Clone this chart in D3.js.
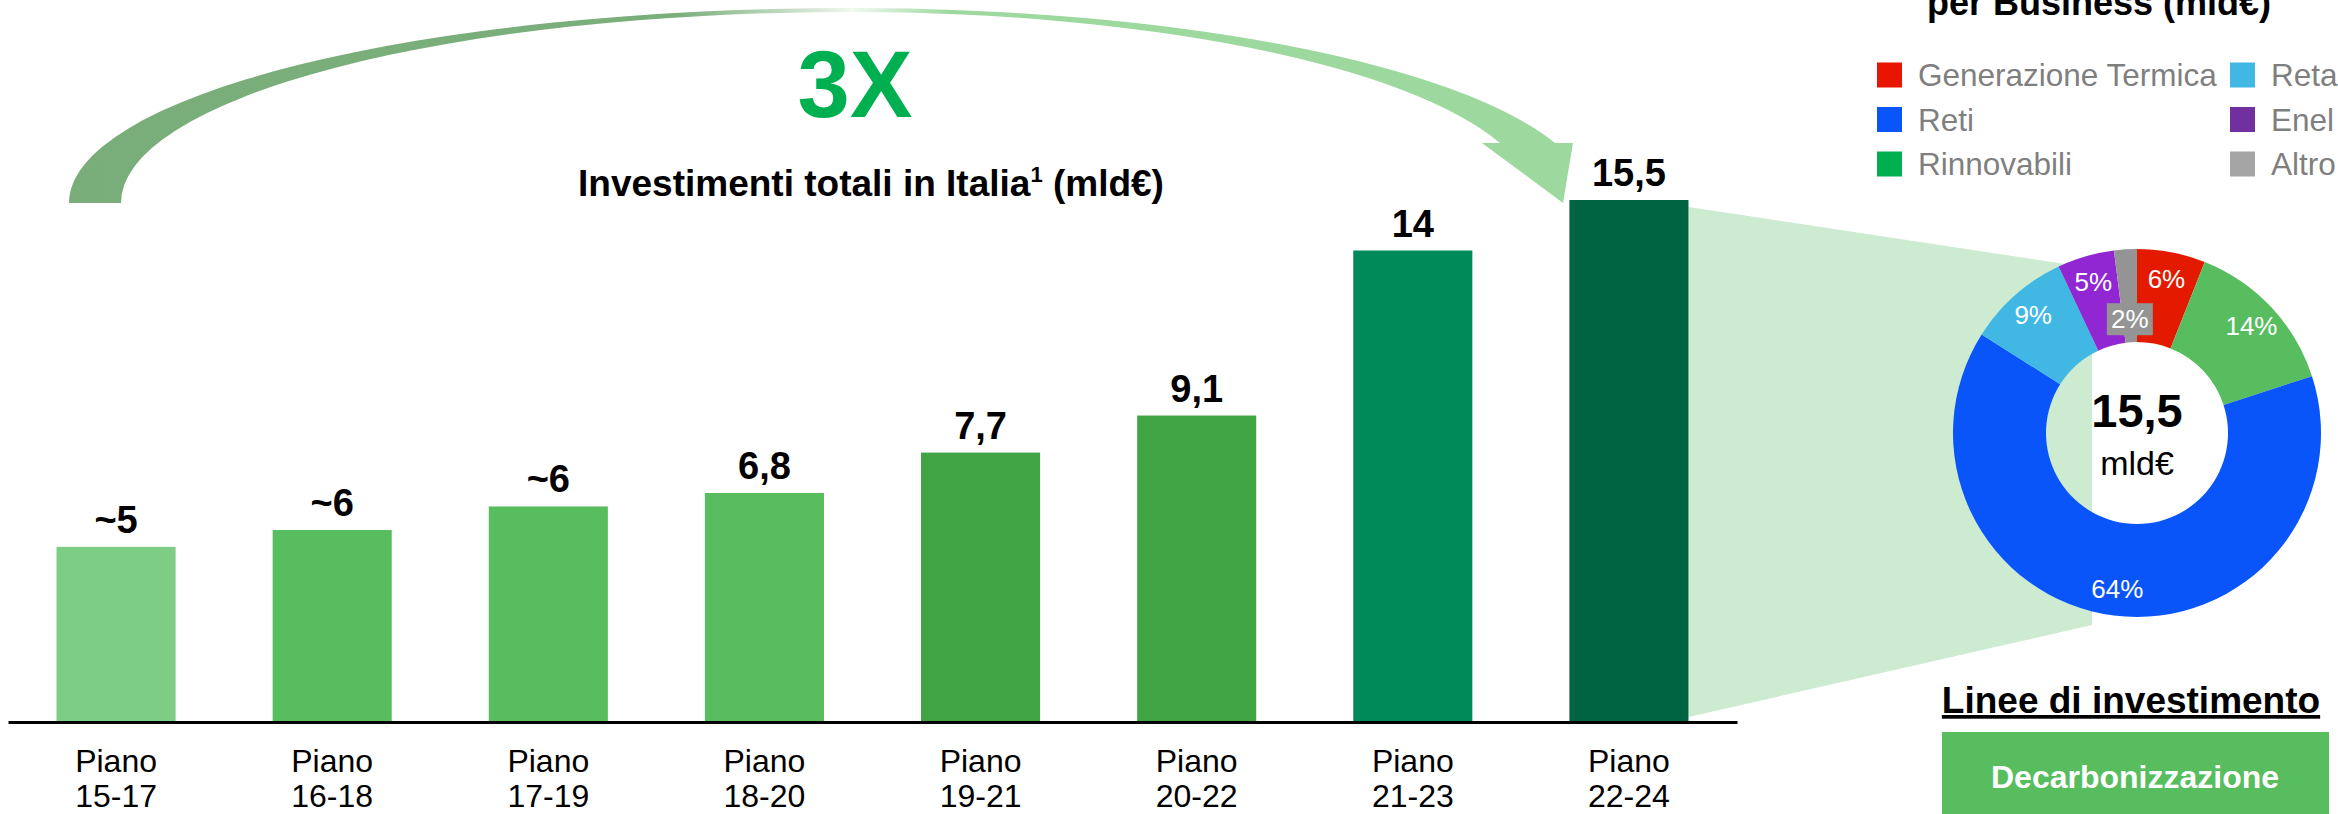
<!DOCTYPE html>
<html>
<head>
<meta charset="utf-8">
<script src="https://cdn.jsdelivr.net/npm/d3@7"></script>
<style>
  html, body { margin: 0; padding: 0; background: #ffffff; }
  svg { display: block; font-family: "Liberation Sans", Arial, sans-serif; }
</style>
</head>
<body>
<svg id="chart" width="2338" height="814"></svg>
<script>
// ---------- data ----------
const categories = ["15-17", "16-18", "17-19", "18-20", "19-21", "20-22", "21-23", "22-24"];
const values = [5.2, 5.7, 6.4, 6.8, 8.0, 9.1, 14, 15.5];
const valueLabels = ["~5", "~6", "~6", "6,8", "7,7", "9,1", "14", "15,5"];
const barColors = ["#7dcd84", "#58bd5f", "#58bd5f", "#58bd5f", "#40a444", "#40a444", "#008a5a", "#006442"];

const sliceNames = ["Generazione Termica", "Rinnovabili", "Reti", "Retail", "Enel X", "Altro"];
const sliceValues = [6, 14, 64, 9, 5, 2];
const sliceColors = ["#e41a00", "#57bd5f", "#0a55fa", "#41b8e4", "#9127d2", "#949494"];

const legendNames = ["Generazione Termica", "Reti", "Rinnovabili", "Retail", "Enel X", "Altro"];
const legendColors = ["#e81500", "#0a55fa", "#00b050", "#41b8e4", "#7030a0", "#a5a5a5"];

const totalLabel = "15,5";
const multiplierLabel = "3X";

// ---------- setup ----------
const svg = d3.select("#chart");
const FONT = '"Liberation Sans", Arial, sans-serif';

const x = d3.scaleBand().domain(categories).range([8, 1737]).paddingInner(0.449).paddingOuter(0.2245);
const y = d3.scaleLinear().domain([0, 15.5]).range([722, 200]);

// ---------- curved "3X" arrow ----------
const defs = svg.append("defs");
const gL = defs.append("linearGradient").attr("id", "gradL")
  .attr("gradientUnits", "userSpaceOnUse").attr("x1", 69).attr("x2", 850).attr("y1", 0).attr("y2", 0);
gL.append("stop").attr("offset", 0).attr("stop-color", "#79ad79");
gL.append("stop").attr("offset", 0.78).attr("stop-color", "#7aae7a");
gL.append("stop").attr("offset", 1).attr("stop-color", "#eef6ee");
const gR = defs.append("linearGradient").attr("id", "gradR")
  .attr("gradientUnits", "userSpaceOnUse").attr("x1", 850).attr("x2", 1555).attr("y1", 0).attr("y2", 0);
gR.append("stop").attr("offset", 0).attr("stop-color", "#f2faf2");
gR.append("stop").attr("offset", 0.14).attr("stop-color", "#9dd89e");
gR.append("stop").attr("offset", 1).attr("stop-color", "#9dd89e");

svg.append("path")
  .attr("d", "M69,203 A781,195 0 0 1 850,8 L850,12 A729,191 0 0 0 121,203 Z")
  .attr("fill", "url(#gradL)");
svg.append("path")
  .attr("d", "M850,8 A741,195 0 0 1 1555,143 L1500,143 A683,191 0 0 0 850,12 Z")
  .attr("fill", "url(#gradR)");
svg.append("path")
  .attr("d", "M1482,143 L1573,143 L1563,203 Z")
  .attr("fill", "#9dd89e");

svg.append("text")
  .attr("x", 855).attr("y", 117)
  .attr("text-anchor", "middle")
  .attr("font-size", 94).attr("font-weight", "bold")
  .attr("fill", "#00b050")
  .text(multiplierLabel);

// chart title
const title = svg.append("text")
  .attr("x", 871).attr("y", 196)
  .attr("text-anchor", "middle")
  .attr("font-size", 37).attr("font-weight", "bold")
  .attr("fill", "#000");
title.append("tspan").text("Investimenti totali in Italia");
title.append("tspan").attr("font-size", 22).attr("dy", -14).text("1");
title.append("tspan").attr("dy", 14).text(" (mld€)");

// ---------- funnel from last bar to donut ----------
const lastCat = categories[categories.length - 1];
const fx0 = x(lastCat) + x.bandwidth();
svg.append("path")
  .attr("d", `M${fx0},${y(values[values.length - 1]) + 7} L2092,268 L2092,625 L${fx0},717 Z`)
  .attr("fill", "#cdebd0");

// ---------- bars ----------
svg.append("g").selectAll("rect")
  .data(values)
  .join("rect")
  .attr("x", (d, i) => x(categories[i]))
  .attr("y", d => y(d))
  .attr("width", x.bandwidth())
  .attr("height", d => y(0) - y(d))
  .attr("fill", (d, i) => barColors[i]);

svg.append("g").selectAll("text")
  .data(values)
  .join("text")
  .attr("x", (d, i) => x(categories[i]) + x.bandwidth() / 2)
  .attr("y", d => y(d) - 14)
  .attr("text-anchor", "middle")
  .attr("font-size", 38).attr("font-weight", "bold")
  .attr("fill", "#000")
  .text((d, i) => valueLabels[i]);

// ---------- x axis ----------
const axis = svg.append("g")
  .attr("transform", `translate(0,${y(0)})`)
  .call(d3.axisBottom(x).tickSizeInner(0).tickSizeOuter(0).tickPadding(0));
axis.select(".domain").attr("stroke", "#000").attr("stroke-width", 3);
axis.selectAll(".tick text").each(function(d) {
  const t = d3.select(this);
  t.text(null).attr("font-family", FONT).attr("font-size", 32).attr("fill", "#000")
    .attr("y", 0).attr("dy", null);
  t.append("tspan").attr("x", 0).attr("y", 50).text("Piano");
  t.append("tspan").attr("x", 0).attr("y", 85).text(d);
});

// ---------- donut ----------
const cx = 2137, cy = 433, rOut = 184, rIn = 91;
const pie = d3.pie().sort(null).value(d => d);
const arcs = pie(sliceValues);
const arcGen = d3.arc().innerRadius(rIn).outerRadius(rOut);
const donut = svg.append("g").attr("transform", `translate(${cx},${cy})`);
donut.selectAll("path")
  .data(arcs)
  .join("path")
  .attr("d", arcGen)
  .attr("fill", (d, i) => sliceColors[i]);

const labelArc = d3.arc().innerRadius(157).outerRadius(157);
const smallArc = d3.arc().innerRadius(114).outerRadius(114);
arcs.forEach((a, i) => {
  const isSmall = sliceValues[i] < 3;
  const [lx, ly] = (isSmall ? smallArc : labelArc).centroid(a);
  if (isSmall) {
    donut.append("rect")
      .attr("x", lx - 23).attr("y", ly - 16)
      .attr("width", 46).attr("height", 32)
      .attr("fill", sliceColors[i]);
  }
  donut.append("text")
    .attr("x", lx).attr("y", ly + 9)
    .attr("text-anchor", "middle")
    .attr("font-size", 26)
    .attr("fill", "#ffffff")
    .text(sliceValues[i] + "%");
});

donut.append("text")
  .attr("x", 0).attr("y", -6)
  .attr("text-anchor", "middle")
  .attr("font-size", 47).attr("font-weight", "bold")
  .attr("fill", "#000")
  .text(totalLabel);
donut.append("text")
  .attr("x", 0).attr("y", 42)
  .attr("text-anchor", "middle")
  .attr("font-size", 34)
  .attr("fill", "#000")
  .text("mld€");

// ---------- legend ----------
svg.append("text")
  .attr("x", 2099).attr("y", 15)
  .attr("text-anchor", "middle")
  .attr("font-size", 36).attr("font-weight", "bold")
  .attr("fill", "#000")
  .text("per Business (mld€)");

const legendCols = [1877, 2230];
const legendRows = [75, 119.5, 164];
const legend = svg.append("g");
legendNames.forEach((name, i) => {
  const col = Math.floor(i / 3), row = i % 3;
  const lx = legendCols[col], ly = legendRows[row];
  legend.append("rect")
    .attr("x", lx).attr("y", ly - 12.5)
    .attr("width", 25).attr("height", 25)
    .attr("fill", legendColors[i]);
  legend.append("text")
    .attr("x", lx + 41).attr("y", ly + 11)
    .attr("font-size", 31.5)
    .attr("fill", "#7f7f7f")
    .text(name);
});

// ---------- investment lines box ----------
svg.append("text")
  .attr("x", 2131).attr("y", 713)
  .attr("text-anchor", "middle")
  .attr("font-size", 37).attr("font-weight", "bold")
  .attr("text-decoration", "underline")
  .attr("fill", "#000")
  .text("Linee di investimento");
svg.append("rect")
  .attr("x", 1942).attr("y", 732)
  .attr("width", 387).attr("height", 90)
  .attr("fill", "#57bd5f");
svg.append("text")
  .attr("x", 2135).attr("y", 788)
  .attr("text-anchor", "middle")
  .attr("font-size", 32).attr("font-weight", "bold")
  .attr("fill", "#ffffff")
  .text("Decarbonizzazione");
</script>
</body>
</html>
